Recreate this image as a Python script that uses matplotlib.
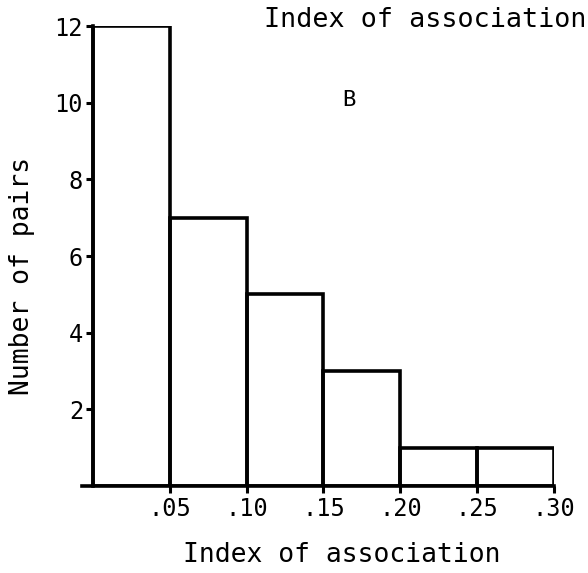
import matplotlib
matplotlib.use('Agg')
import matplotlib.pyplot as plt

# histogram data: bin edges and counts
bin_edges = [0.0, 0.05, 0.10, 0.15, 0.20, 0.25, 0.30]
counts = [12, 7, 5, 3, 1, 1]
x_ticks = [0.05, 0.10, 0.15, 0.20, 0.25, 0.30]
x_tick_labels = ['.05', '.10', '.15', '.20', '.25', '.30']
y_ticks = [2, 4, 6, 8, 10, 12]

plt.rcParams['font.family'] = ['DejaVu Sans Mono']

fig = plt.figure(figsize=(5.88, 5.73), dpi=100)
ax = fig.add_axes([82 / 588, 87 / 573, 472 / 588, 460 / 573])

widths = [b - a for a, b in zip(bin_edges[:-1], bin_edges[1:])]
ax.bar(bin_edges[:-1], counts, width=widths, align='edge', fill=False,
       edgecolor='black', linewidth=2.6, zorder=3)

ax.set_xlim(-0.007, 0.30)
ax.set_ylim(0, 12)
ax.spines['left'].set_position(('data', 0))
ax.spines['right'].set_visible(False)
ax.spines['top'].set_visible(False)
for s in ['left', 'bottom']:
    ax.spines[s].set_linewidth(2.6)

ax.set_xticks(x_ticks)
ax.set_xticklabels(x_tick_labels)
ax.set_yticks(y_ticks)
ax.tick_params(axis='both', direction='out', length=5, width=2.2, labelsize=17)
ax.tick_params(axis='x', pad=3)
ax.tick_params(axis='y', pad=2)

ax.text(0.566, 0.839, 'B', transform=ax.transAxes, fontsize=16,
        ha='center', va='center')

fig.text(586 / 588, 1 - 20 / 573, 'Index of association', fontsize=19.3,
         ha='right', va='center')
fig.text(22 / 588, 1 - 276 / 573, 'Number of pairs', fontsize=19,
         rotation=90, ha='center', va='center')
fig.text(342 / 588, 1 - 555 / 573, 'Index of association', fontsize=19,
         ha='center', va='center')

fig.savefig('out.png', dpi=100)
